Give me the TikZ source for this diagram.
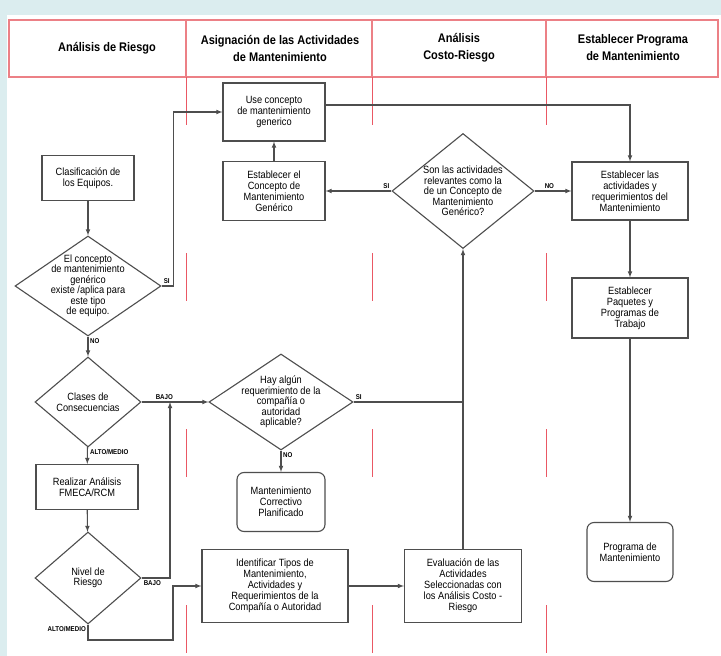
\documentclass[tikz,border=0pt]{standalone}
\usepackage{fontspec}
\setmainfont{Liberation Sans}[FakeStretch=0.88]
\usetikzlibrary{shapes.geometric, positioning}
\definecolor{bgteal}{RGB}{219,237,239}
\definecolor{hdred}{RGB}{236,128,134}
\definecolor{lnred}{RGB}{234,88,100}
\definecolor{lngray}{RGB}{78,78,78}

\begin{document}
\begin{tikzpicture}[>=latex, x=1pt, y=-1pt,
    box/.style={draw=lngray, line width=1.1pt, fill=white, align=center, inner sep=1pt, font=\fontsize{10.5}{11}\selectfont},
    rbox/.style={box, rounded corners=7pt},
    dec/.style={diamond, draw=lngray, line width=1.1pt, fill=white, inner sep=0pt},
    dtxt/.style={align=center, inner sep=0pt, font=\fontsize{10.5}{10.5}\selectfont},
    lbl/.style={font=\fontsize{7}{8}\selectfont\bfseries, inner sep=2pt},
    flow/.style={draw=lngray, line width=1.1pt},
    hd/.style={align=center, font=\fontsize{12.5}{17}\selectfont\bfseries}]
  \useasboundingbox (0,0) rectangle (721,656);
  \fill [bgteal] (0,0) rectangle (721,656);
  \fill [white] (7,15) rectangle (721,656);

  \draw [hdred, line width=1.2pt] (9,20) rectangle (718,77);
  \foreach \x in {186,372,546} {
    \draw [hdred, line width=1.2pt] (\x,20) -- (\x,77);
    \draw [lnred, line width=1pt, dash pattern=on 48pt off 128pt] (\x,77) -- (\x,656);
  }
  \node (h1) at (107,48) [hd] {Análisis de Riesgo};
  \node (h2) at (280,48) [hd] {Asignación de las Actividades\\de Mantenimiento};
  \node (h3) at (459,48) [hd] {Análisis\\Costo-Riesgo};
  \node (h4) at (633,48) [hd] {Establecer Programa\\de Mantenimiento};

  \node (clasif) at (88,178) [box, minimum width=92pt, minimum height=45pt] {Clasificación de\\los Equipos.};
  \node (d1) at (88,286) [dec, minimum width=146pt, minimum height=100pt] {};
  \node at (d1) [dtxt] {El concepto\\de mantenimiento\\genérico\\existe /aplica para\\este tipo\\de equipo.};
  \node (clases) at (88,402) [dec, minimum width=106pt, minimum height=90pt] {};
  \node at (clases) [dtxt] {Clases de\\Consecuencias};
  \node (realizar) at (87,487) [box, minimum width=102pt, minimum height=45pt] {Realizar Análisis\\FMECA/RCM};
  \node (nivel) at (88,578) [dec, minimum width=106pt, minimum height=92pt] {};
  \node at (nivel) [dtxt] {Nivel de\\Riesgo};

  \node (use) at (274,112) [box, minimum width=102pt, minimum height=58pt] {Use concepto\\de mantenimiento\\generico};
  \node (estgen) at (274,191) [box, minimum width=102pt, minimum height=59pt] {Establecer el\\Concepto de\\Mantenimiento\\Genérico};
  \node (hay) at (281,402) [dec, minimum width=144pt, minimum height=96pt] {};
  \node at (hay) [dtxt] {Hay algún\\requerimiento de la\\compañía o\\autoridad\\aplicable?};
  \node (mcp) at (281,502) [rbox, minimum width=88pt, minimum height=59pt] {Mantenimiento\\Correctivo\\Planificado};
  \node (ident) at (275,586) [box, minimum width=146pt, minimum height=73pt] {Identificar Tipos de\\Mantenimiento,\\Actividades y\\Requerimientos de la\\Compañía o Autoridad};

  \node (son) at (463,191) [dec, minimum width=142pt, minimum height=115pt] {};
  \node at (son) [dtxt] {Son las actividades\\relevantes como la\\de un Concepto de\\Mantenimiento\\Genérico?};
  \node (eval) at (463,586) [box, minimum width=117pt, minimum height=73pt] {Evaluación de las\\Actividades\\Seleccionadas con\\los Análisis Costo -\\Riesgo};

  \node (estact) at (630,191) [box, minimum width=116pt, minimum height=58pt] {Establecer las\\actividades y\\requerimientos del\\Mantenimiento};
  \node (paq) at (630,308) [box, minimum width=116pt, minimum height=60pt] {Establecer\\Paquetes y\\Programas de\\Trabajo};
  \node (prog) at (630,552) [rbox, minimum width=86pt, minimum height=59pt] {Programa de\\Mantenimiento};

  \coordinate (bajo) at (170,402);
  \coordinate (alto) at (173,640);

  \draw [flow, ->] (clasif) -- (d1);
  \draw [flow, ->] (d1.east) -- ++(12,0) |- (use.west);
  \draw [flow, ->] (d1) -- (clases);
  \draw [flow, ->] (clases) -- (realizar);
  \draw [flow, ->] (realizar) -- (nivel);
  \draw [flow, ->] (clases) -- (hay);
  \draw [flow, ->] (nivel.east) -| (bajo);
  \draw [flow, ->] (nivel.south) |- (alto) |- (ident.west);
  \draw [flow] (hay) -- (hay -| eval);
  \draw [flow, ->] (hay) -- (mcp);
  \draw [flow, ->] (ident) -- (eval);
  \draw [flow, ->] (eval) -- (son);
  \draw [flow, ->] (son) -- (estgen);
  \draw [flow, ->] (son) -- (estact);
  \draw [flow, ->] (estgen) -- (use);
  \draw [flow, ->] ([yshift=7pt]use.east) -| (estact.north);
  \draw [flow, ->] (estact) -- (paq);
  \draw [flow, ->] (paq) -- (prog);

  \node at (d1.east) [lbl, above right] {SI};
  \node at (d1.south) [lbl, below right] {NO};
  \node at ([xshift=12pt]clases.east) [lbl, above right] {BAJO};
  \node at (clases.south) [lbl, below right] {ALTO/MEDIO};
  \node at (nivel.east) [lbl, below right] {BAJO};
  \node at (nivel.south) [lbl, below left] {ALTO/MEDIO};
  \node at (hay.east) [lbl, above right] {SI};
  \node at (hay.south) [lbl, below right] {NO};
  \node at (son.west) [lbl, above left] {SI};
  \node at ([xshift=8pt]son.east) [lbl, above right] {NO};
\end{tikzpicture}
\end{document}
